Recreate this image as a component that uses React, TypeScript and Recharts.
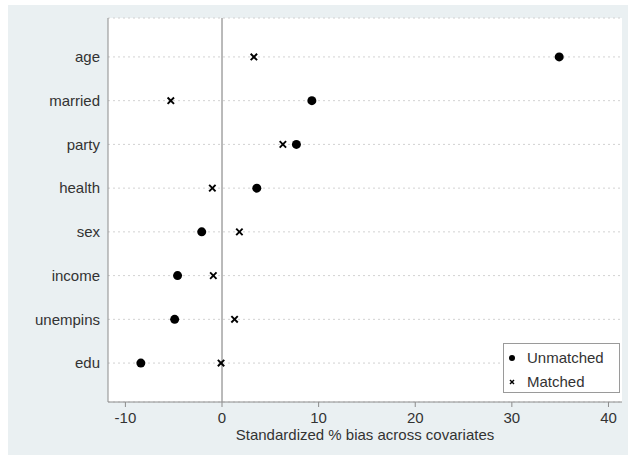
import React from 'react';
import {
  ScatterChart, Scatter, XAxis, YAxis, CartesianGrid, ReferenceLine, Legend,
} from 'recharts';

const covariates = ['age', 'married', 'party', 'health', 'sex', 'income', 'unempins', 'edu'];
const unmatched = [34.9, 9.3, 7.7, 3.6, -2.1, -4.6, -4.9, -8.4];
const matched = [3.3, -5.3, 6.3, -1.0, 1.8, -0.9, 1.3, -0.1];
const xTicks = [-10, 0, 10, 20, 30, 40];

const FONT = '"Liberation Sans", Arial, Helvetica, sans-serif';
const FS = 15;
const TEXT = '#333';
const AXIS = '#8c8c8c';

const unmatchedData = covariates.map((c, i) => ({ name: c, pos: i + 1, bias: unmatched[i] }));
const matchedData = covariates.map((c, i) => ({ name: c, pos: i + 1, bias: matched[i] }));

const Dot = (p: any) => <circle cx={p.cx} cy={p.cy} r={4.5} fill="#000" />;

const Cross = (p: any) => {
  const s = 3.2;
  return (
    <g stroke="#000" strokeWidth={1.9}>
      <line x1={p.cx - s} y1={p.cy - s} x2={p.cx + s} y2={p.cy + s} />
      <line x1={p.cx - s} y1={p.cy + s} x2={p.cx + s} y2={p.cy - s} />
    </g>
  );
};

const LegendBox = () => (
  <div style={{
    width: 117, height: 50, boxSizing: 'border-box', background: '#fff',
    border: '1px solid #9a9a9a', fontFamily: FONT, fontSize: FS, color: TEXT,
    padding: '2px 0 0 5px', lineHeight: '24px', textAlign: 'left',
  }}>
    <div style={{ display: 'flex', alignItems: 'center', height: 24 }}>
      <svg width={14} height={10}><circle cx={3} cy={5} r={3} fill="#000" /></svg>
      <span style={{ marginLeft: 4 }}>Unmatched</span>
    </div>
    <div style={{ display: 'flex', alignItems: 'center', height: 24 }}>
      <svg width={14} height={10} stroke="#000" strokeWidth={1.5}>
        <line x1={1} y1={3} x2={5} y2={7} /><line x1={1} y1={7} x2={5} y2={3} />
      </svg>
      <span style={{ marginLeft: 4 }}>Matched</span>
    </div>
  </div>
);

export default function App() {
  return (
    <div style={{ position: 'absolute', left: 0, top: 0, width: 633, height: 459, background: '#fff' }}>
      <div style={{ position: 'absolute', left: 8, top: 5, width: 620, height: 450, background: '#eaf0f2' }} />
      <ScatterChart
        width={633}
        height={459}
        margin={{ top: 18, right: 11, bottom: 17, left: 8 }}
        style={{ position: 'absolute', left: 0, top: 0 }}
      >
        <CartesianGrid fill="#fff" vertical={false} stroke="#d2d2d2" strokeDasharray="2 3" />
        <XAxis
          type="number"
          dataKey="bias"
          domain={[-11.8, 41.4]}
          ticks={xTicks}
          height={40}
          tickSize={5}
          tickMargin={5}
          stroke={AXIS}
          tick={{ fontSize: FS, fill: TEXT, fontFamily: FONT }}
          label={{ value: 'Standardized % bias across covariates', position: 'insideBottom', offset: 2, style: { fontSize: FS, fill: TEXT, fontFamily: FONT } }}
        />
        <YAxis
          type="number"
          dataKey="pos"
          domain={[0.11, 8.89]}
          reversed
          ticks={[1, 2, 3, 4, 5, 6, 7, 8]}
          tickFormatter={(v: number) => covariates[v - 1] ?? ''}
          width={100}
          tickLine={false}
          stroke={AXIS}
          tick={{ fontSize: FS, fill: TEXT, fontFamily: FONT }}
        />
        <ReferenceLine x={0} stroke={AXIS} strokeWidth={1.2} />
        <Legend
          layout="horizontal"
          verticalAlign="middle"
          content={() => <LegendBox />}
          wrapperStyle={{ left: 503, top: 343, width: 117, height: 50 }}
        />
        <Scatter name="Unmatched" data={unmatchedData} shape={Dot} isAnimationActive={false} />
        <Scatter name="Matched" data={matchedData} shape={Cross} isAnimationActive={false} />
      </ScatterChart>
    </div>
  );
}
